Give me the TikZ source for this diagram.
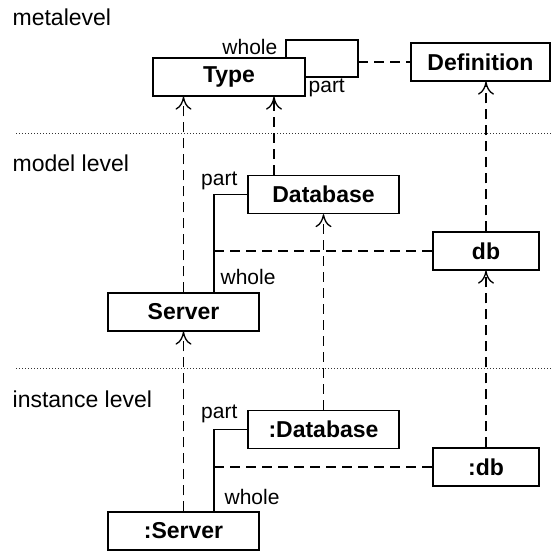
\documentclass[tikz,border=0pt]{standalone}
\usepackage{fontspec}
\setmainfont{Liberation Sans}
\usetikzlibrary{arrows.meta}

\tikzset{
  box/.style={draw, line width=1.3pt, minimum height=38pt, inner sep=0pt,
    font=\fontsize{23}{27}\selectfont\bfseries},
  role/.style={inner sep=0pt, font=\fontsize{21}{25}\selectfont},
  levelname/.style={anchor=west, inner sep=0pt, font=\fontsize{23}{27}\selectfont},
  levelsep/.style={line width=0.8pt, black!80, dash pattern=on 0.8pt off 2.2pt},
  link/.style={line width=1.3pt, dash pattern=on 10pt off 6pt},
  instof/.style={link, -{Computer Modern Rightarrow[length=13pt,width=16pt]}},
}

\begin{document}
\begin{tikzpicture}[x=1pt, y=-1pt, line width=1.3pt]
  \useasboundingbox (0,0) rectangle (552,552);

  % levels
  \node[levelname] (meta) at (12,17) {metalevel};
  \node[levelname] (model) at (12,163) {model level};
  \node[levelname] (inst) at (12,399) {instance level};
  \draw[levelsep] (16,133) -- (551,133);
  \draw[levelsep] (16,368) -- (551,368);

  % metalevel
  \node[box, minimum width=152pt] (type) at (229,77) {Type};
  \node[box, minimum width=139pt] (definition) at (480.5,62) {Definition};
  \coordinate (whole0) at (286,40);
  \coordinate (part0) at (358,77);
  \draw ([xshift=57pt]type.north) -- (whole0) -| (part0) -- (type.east |- part0);
  \draw[link] (part0 |- definition.west) -- (definition.west);
  \node[role, anchor=east] (whole0l) at (278,47) {whole};
  \node[role, anchor=west] (part0l) at (308,88) {part};

  % model level
  \node[box, minimum width=151pt] (database) at (323.5,194.5) {Database};
  \node[box, minimum width=106pt] (db) at (486,251) {db};
  \node[box, minimum width=151pt] (server) at (183.5,312) {Server};
  \coordinate (joint) at (214,251);
  \draw (database.west) -| (joint) -- (joint |- server.north);
  \draw[link] (joint) -- (db.west);
  \node[role, anchor=east] (part1l) at (238,181) {part};
  \node[role, anchor=west] (whole1l) at (220,277) {whole};

  % instance level
  \node[box, minimum width=151pt] (idatabase) at (323.5,429.5) {:Database};
  \node[box, minimum width=106pt] (idb) at (486,467) {:db};
  \node[box, minimum width=151pt] (iserver) at (183.5,531) {:Server};
  \coordinate (ijoint) at (214,467);
  \draw (idatabase.west) -| (ijoint) -- (ijoint |- iserver.north);
  \draw[link] (ijoint) -- (idb.west);
  \node[role, anchor=east] (part2l) at (238,414) {part};
  \node[role, anchor=west] (whole2l) at (224,497) {whole};

  % instance-of links
  \coordinate (dbtop) at ([xshift=-49.5pt]database.north);
  \draw[instof] (server.north) -- (server.north |- type.south);
  \draw[instof] (dbtop) -- (dbtop |- type.south);
  \draw[instof] (db.north) -- (db.north |- definition.south);
  \draw[instof] (idatabase.north) -- (database.south);
  \draw[instof] (idb.north) -- (db.south);
  \draw[instof] (iserver.north) -- (server.south);
\end{tikzpicture}
\end{document}
